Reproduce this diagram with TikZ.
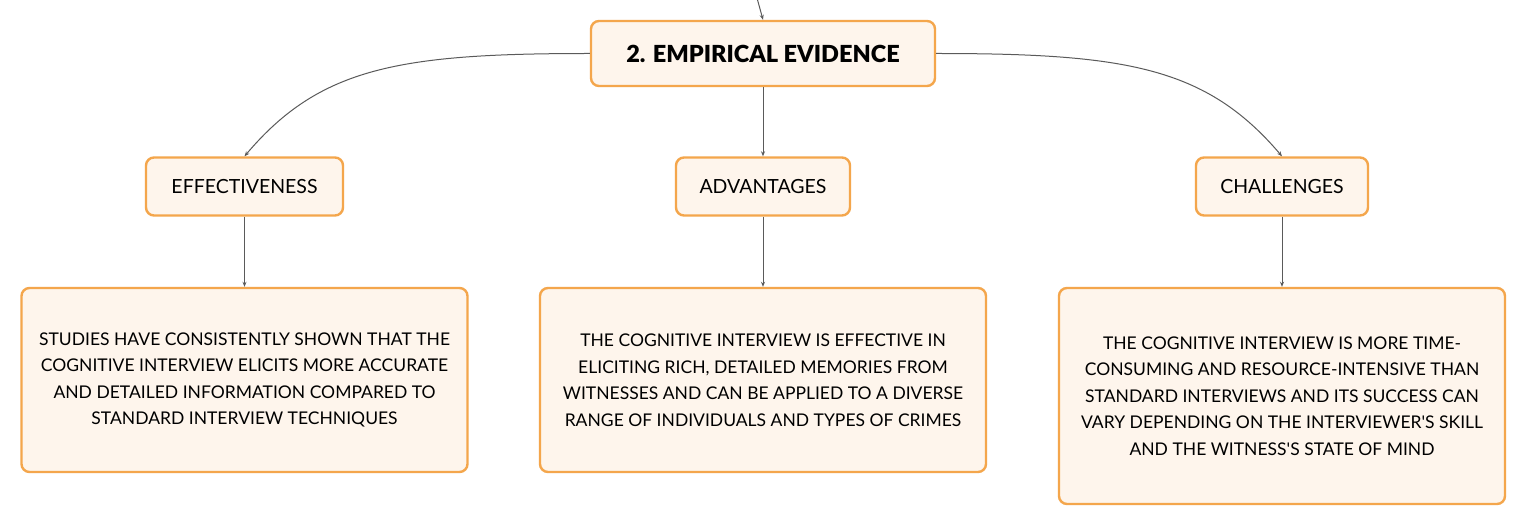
\documentclass[tikz,border=0pt]{standalone}
\usepackage{fontspec}
\setmainfont{Lato}
\newfontfamily\heavyfont{Lato Black}
\usetikzlibrary{arrows.meta}
\definecolor{boxline}{HTML}{F4A64C}
\definecolor{boxfill}{HTML}{FEF5EC}
\definecolor{linkgray}{HTML}{5A5A5A}
\tikzset{
	box/.style={draw=boxline, fill=boxfill, line width=2.4pt, rounded corners=8pt, align=center, inner sep=0pt},
	topic/.style={box, minimum width=344pt, minimum height=65pt, font=\fontsize{23.5}{28}\heavyfont},
	branch/.style={box, minimum height=58pt, font=\fontsize{19.5}{24}\selectfont},
	leaf/.style={box, minimum width=446pt, font=\fontsize{17.5}{26.5}\selectfont},
	link/.style={draw=linkgray, line width=1pt, -{Stealth[length=5pt,width=4pt]}}
}
\begin{document}
\begin{tikzpicture}[x=1pt,y=-1pt]
				\useasboundingbox[fill=white] (0,0) rectangle (1527,526);
				
				\node[topic] (evidence) at (763,53.5) {2. EMPIRICAL EVIDENCE};
				\coordinate (above) at (757,-2);
				\draw[link] (above) -- (evidence.north);
				
				\node[branch, minimum width=197pt] (effect) at (244.5,186.5) {EFFECTIVENESS};
				\node[branch, minimum width=174pt] (advant) at (763,186.5) {ADVANTAGES};
				\node[branch, minimum width=172pt] (challen) at (1282,186.5) {CHALLENGES};
				
				\node[leaf, minimum height=184pt] (effecttext) at (244.5,380) {STUDIES HAVE CONSISTENTLY SHOWN THAT THE\\COGNITIVE INTERVIEW ELICITS MORE ACCURATE\\AND DETAILED INFORMATION COMPARED TO\\STANDARD INTERVIEW TECHNIQUES};
				\node[leaf, minimum height=184pt] (advanttext) at (763,380) {THE COGNITIVE INTERVIEW IS EFFECTIVE IN\\ELICITING RICH, DETAILED MEMORIES FROM\\WITNESSES AND CAN BE APPLIED TO A DIVERSE\\RANGE OF INDIVIDUALS AND TYPES OF CRIMES};
				\node[leaf, minimum height=216pt] (challentext) at (1282,396) {THE COGNITIVE INTERVIEW IS MORE TIME-\\CONSUMING AND RESOURCE-INTENSIVE THAN\\STANDARD INTERVIEWS AND ITS SUCCESS CAN\\VARY DEPENDING ON THE INTERVIEWER\textquotesingle S SKILL\\AND THE WITNESS\textquotesingle S STATE OF MIND};
				
				\draw[link] (evidence.west) .. controls (400,53.5) and (320,67) .. (effect.north);
				\draw[link] (evidence.south) -- (advant.north);
				\draw[link] (evidence.east) .. controls (1126,53.5) and (1206,67) .. (challen.north);
				
				\draw[link] (effect.south) -- (effecttext.north);
				\draw[link] (advant.south) -- (advanttext.north);
				\draw[link] (challen.south) -- (challentext.north);
\end{tikzpicture}
\end{document}
